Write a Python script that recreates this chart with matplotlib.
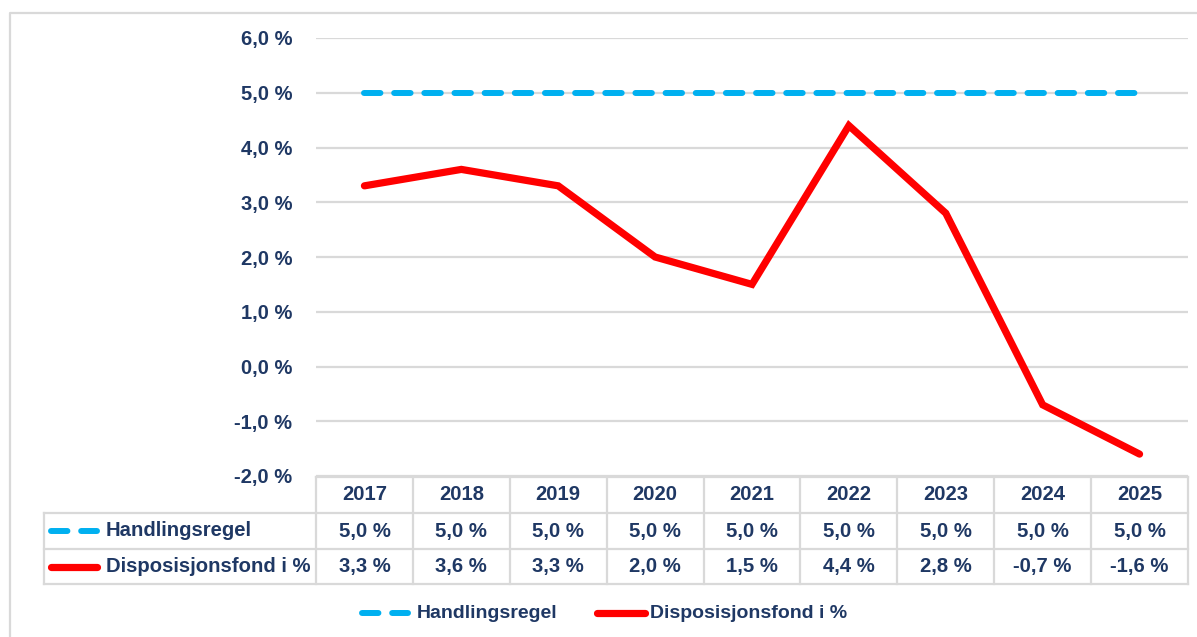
import matplotlib
matplotlib.use("Agg")
import matplotlib.pyplot as plt
from matplotlib.transforms import blended_transform_factory
from matplotlib.ticker import FuncFormatter

plt.rcParams["font.family"] = ["Liberation Sans", "DejaVu Sans"]
plt.rcParams["font.weight"] = "bold"

# ---------------------------------------------------------------- data
years = ["2017", "2018", "2019", "2020", "2021", "2022", "2023", "2024", "2025"]
handlingsregel = [5.0, 5.0, 5.0, 5.0, 5.0, 5.0, 5.0, 5.0, 5.0]
disposisjonsfond = [3.3, 3.6, 3.3, 2.0, 1.5, 4.4, 2.8, -0.7, -1.6]
series_names = ["Handlingsregel", "Disposisjonsfond i %"]
y_ticks = [-2, -1, 0, 1, 2, 3, 4, 5, 6]

TXT = "#1F3864"
BLUE = "#00B0F0"
RED = "#FF0000"
GRID = "#D9D9D9"
W, H = 1197, 637


def pct(v):
    return f"{v:.1f} %".replace(".", ",")


fig = plt.figure(figsize=(W / 100, H / 100), dpi=100)

# overlay axes in pixel coords for border / table / legend
over = fig.add_axes([0, 0, 1, 1], zorder=0)
over.set_xlim(0, W)
over.set_ylim(H, 0)
over.axis("off")

# chart border
over.plot([10, 10, W + 5], [H + 5, 13, 13], color=GRID, lw=1.6)

# main plot area
x0, x1, ytop, ybot = 316, 1188, 38, 476
ax = fig.add_axes([x0 / W, 1 - ybot / H, (x1 - x0) / W, (ybot - ytop) / H], zorder=1)
ax.patch.set_alpha(0)
xs = list(range(len(years)))
ax.set_xlim(-0.5, len(years) - 0.5)
ax.set_ylim(-2, 6)
ax.set_yticks(y_ticks)
ax.yaxis.set_major_formatter(FuncFormatter(lambda v, p: pct(v)))
ax.tick_params(axis="y", length=0, pad=17, labelsize=14.5, labelcolor=TXT)
ax.set_xticks([])
for s in ax.spines.values():
    s.set_visible(False)
ax.grid(axis="y", color=GRID, lw=1.6)
ax.set_axisbelow(True)

ln_b, = ax.plot(xs, handlingsregel, color=BLUE, lw=4.3, solid_capstyle="round",
                dash_capstyle="round", clip_on=False)
ln_b.set_dashes((2.75, 2.3))
ax.plot(xs, disposisjonsfond, color=RED, lw=5.2, solid_capstyle="round",
        solid_joinstyle="miter", clip_on=False)

# ---------------------------------------------------------------- data table
tr = blended_transform_factory(ax.transData, over.transData)
rows_y = [477, 513, 549, 584]
tl = 44
edges = [i - 0.5 for i in range(len(years) + 1)]
for e in edges:
    over.plot([e, e], [rows_y[0], rows_y[-1]], color=GRID, lw=1.6, transform=tr)
over.plot([tl, tl], [rows_y[1], rows_y[-1]], color=GRID, lw=1.6)
over.plot([edges[0], edges[-1]], [rows_y[0]] * 2, color=GRID, lw=1.6, transform=tr)
for yy in rows_y[1:]:
    over.plot([tl, x1], [yy, yy], color=GRID, lw=1.6)

cell_fs = 14.6
for i, yr in enumerate(years):
    yc = (rows_y[0] + rows_y[1]) / 2
    over.text(i, yc, yr, transform=tr, ha="center", va="center",
              fontsize=cell_fs, color=TXT)
for r, vals in enumerate([handlingsregel, disposisjonsfond]):
    yc = (rows_y[r + 1] + rows_y[r + 2]) / 2
    for i, v in enumerate(vals):
        over.text(i, yc, pct(v), transform=tr, ha="center", va="center",
                  fontsize=cell_fs, color=TXT)

# legend keys inside the table
yc1 = (rows_y[1] + rows_y[2]) / 2
yc2 = (rows_y[2] + rows_y[3]) / 2
k, = over.plot([51, 97], [yc1, yc1], color=BLUE, lw=4.3, dash_capstyle="round")
k.set_dashes((2.75, 2.3))
over.plot([51, 97], [yc2, yc2], color=RED, lw=5.2, solid_capstyle="round")
over.text(106, yc1, series_names[0], ha="left", va="center", fontsize=cell_fs, color=TXT)
over.text(106, yc2, series_names[1], ha="left", va="center", fontsize=cell_fs, color=TXT)

# ---------------------------------------------------------------- bottom legend
ly = 613
k2, = over.plot([362, 408], [ly, ly], color=BLUE, lw=4.3, dash_capstyle="round")
k2.set_dashes((2.75, 2.3))
over.text(417, ly, series_names[0], ha="left", va="center", fontsize=14, color=TXT)
over.plot([597, 645], [ly, ly], color=RED, lw=5.2, solid_capstyle="round")
over.text(650, ly, series_names[1], ha="left", va="center", fontsize=14, color=TXT)

fig.savefig("out.png", dpi=100, facecolor="white")
